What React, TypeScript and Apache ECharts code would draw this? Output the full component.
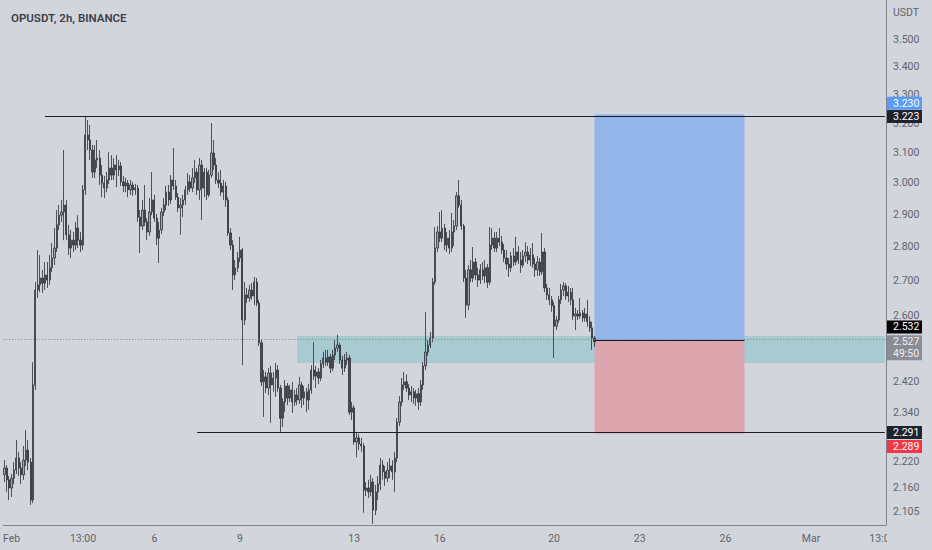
import React, { useEffect, useRef } from "react";
import * as echarts from "echarts";

// OHLC candles, 2h each: [open, close, low, high]
const candles: number[][] = [
  [2.189, 2.205, 2.172, 2.224], [2.205, 2.177, 2.149, 2.212], [2.177, 2.158, 2.130, 2.186], [2.158, 2.181, 2.137, 2.191],
  [2.181, 2.200, 2.167, 2.219], [2.200, 2.229, 2.191, 2.273], [2.229, 2.205, 2.186, 2.244], [2.205, 2.189, 2.167, 2.219],
  [2.189, 2.224, 2.177, 2.258], [2.224, 2.248, 2.210, 2.297], [2.248, 2.219, 2.200, 2.273], [2.219, 2.130, 2.119, 2.229],
  [2.130, 2.412, 2.123, 2.472], [2.412, 2.672, 2.399, 2.695], [2.672, 2.687, 2.649, 2.790], [2.687, 2.707, 2.666, 2.775],
  [2.707, 2.692, 2.664, 2.731], [2.692, 2.716, 2.672, 2.754], [2.716, 2.701, 2.678, 2.754], [2.701, 2.737, 2.687, 2.775],
  [2.737, 2.766, 2.725, 2.811], [2.766, 2.796, 2.745, 2.857], [2.796, 2.867, 2.784, 2.913], [2.867, 2.897, 2.851, 2.929],
  [2.897, 2.907, 2.876, 2.945], [2.907, 2.929, 2.820, 3.108], [2.929, 2.836, 2.820, 2.945], [2.836, 2.796, 2.775, 2.867],
  [2.796, 2.820, 2.766, 2.851], [2.820, 2.805, 2.784, 2.845], [2.805, 2.857, 2.790, 2.876], [2.857, 2.820, 2.796, 2.897],
  [2.820, 2.805, 2.784, 2.845], [2.805, 2.977, 2.790, 2.993], [2.977, 3.159, 2.961, 3.221], [3.159, 3.142, 3.108, 3.210],
  [3.142, 3.108, 3.075, 3.193], [3.108, 3.035, 3.016, 3.125], [3.035, 3.075, 3.016, 3.125], [3.075, 3.081, 3.048, 3.142],
  [3.081, 3.025, 2.993, 3.108], [3.025, 2.999, 2.954, 3.058], [2.999, 2.983, 2.951, 3.022], [2.983, 3.009, 2.970, 3.035],
  [3.009, 3.048, 2.996, 3.101], [3.048, 3.025, 3.009, 3.091], [3.025, 3.058, 3.009, 3.081], [3.058, 3.042, 2.986, 3.091],
  [3.042, 3.055, 3.022, 3.075], [3.055, 3.003, 2.990, 3.068], [3.003, 2.990, 2.970, 3.022], [2.990, 2.999, 2.970, 3.016],
  [2.999, 2.977, 2.954, 3.009], [2.977, 2.993, 2.961, 3.009], [2.993, 2.977, 2.958, 3.003], [2.977, 2.983, 2.961, 2.996],
  [2.983, 2.891, 2.876, 2.993], [2.891, 2.863, 2.781, 2.913], [2.863, 2.913, 2.851, 2.945], [2.913, 2.876, 2.863, 2.993],
  [2.876, 2.845, 2.820, 2.888], [2.845, 2.907, 2.833, 2.951], [2.907, 2.945, 2.897, 3.035], [2.945, 2.888, 2.876, 2.961],
  [2.888, 2.826, 2.805, 2.901], [2.826, 2.851, 2.751, 2.876], [2.851, 2.907, 2.839, 2.920], [2.907, 2.929, 2.894, 2.951],
  [2.929, 2.970, 2.913, 2.990], [2.970, 2.945, 2.926, 2.993], [2.945, 3.009, 2.932, 3.025], [3.009, 2.990, 2.977, 3.115],
  [2.990, 2.954, 2.945, 3.009], [2.954, 2.920, 2.907, 2.967], [2.920, 2.929, 2.836, 2.951], [2.929, 2.945, 2.891, 2.961],
  [2.945, 2.977, 2.929, 2.990], [2.977, 3.003, 2.961, 3.032], [3.003, 2.983, 2.970, 3.025], [2.983, 3.016, 2.970, 3.048],
  [3.016, 3.035, 2.999, 3.075], [3.035, 2.977, 2.961, 3.048], [2.977, 3.058, 2.945, 3.081], [3.058, 2.983, 2.882, 3.075],
  [2.983, 3.035, 2.954, 3.048], [3.035, 2.961, 2.945, 3.048], [2.961, 3.025, 2.954, 3.042], [3.025, 3.098, 3.016, 3.200],
  [3.098, 3.058, 3.042, 3.142], [3.058, 3.009, 2.996, 3.081], [3.009, 2.999, 2.983, 3.035], [2.999, 2.970, 2.958, 3.042],
  [2.970, 2.990, 2.945, 3.009], [2.990, 2.945, 2.923, 3.003], [2.945, 2.842, 2.833, 2.954], [2.842, 2.805, 2.790, 2.857],
  [2.805, 2.716, 2.672, 2.820], [2.716, 2.737, 2.701, 2.760], [2.737, 2.766, 2.725, 2.784], [2.766, 2.790, 2.754, 2.830],
  [2.790, 2.587, 2.464, 2.796], [2.587, 2.658, 2.573, 2.695], [2.658, 2.649, 2.635, 2.678], [2.649, 2.672, 2.638, 2.687],
  [2.672, 2.655, 2.644, 2.692], [2.655, 2.695, 2.629, 2.710], [2.695, 2.635, 2.626, 2.707], [2.635, 2.524, 2.515, 2.644],
  [2.524, 2.420, 2.409, 2.532], [2.420, 2.433, 2.330, 2.451], [2.433, 2.404, 2.391, 2.446], [2.404, 2.443, 2.386, 2.456],
  [2.443, 2.412, 2.315, 2.462], [2.412, 2.430, 2.394, 2.446], [2.430, 2.451, 2.381, 2.470], [2.451, 2.404, 2.394, 2.464],
  [2.404, 2.327, 2.292, 2.412], [2.327, 2.368, 2.305, 2.378], [2.368, 2.409, 2.342, 2.425], [2.409, 2.378, 2.360, 2.417],
  [2.378, 2.399, 2.368, 2.412], [2.399, 2.368, 2.340, 2.420], [2.368, 2.386, 2.358, 2.399], [2.386, 2.373, 2.360, 2.404],
  [2.373, 2.412, 2.363, 2.433], [2.412, 2.378, 2.353, 2.420], [2.378, 2.394, 2.360, 2.409], [2.394, 2.373, 2.342, 2.404],
  [2.373, 2.399, 2.348, 2.415], [2.399, 2.451, 2.389, 2.464], [2.451, 2.435, 2.425, 2.526], [2.435, 2.446, 2.404, 2.462],
  [2.446, 2.430, 2.414, 2.456], [2.430, 2.467, 2.422, 2.478], [2.467, 2.483, 2.456, 2.499], [2.483, 2.472, 2.462, 2.505],
  [2.472, 2.486, 2.462, 2.505], [2.486, 2.456, 2.443, 2.494], [2.456, 2.491, 2.448, 2.505], [2.491, 2.510, 2.478, 2.532],
  [2.510, 2.518, 2.499, 2.546], [2.518, 2.478, 2.467, 2.524], [2.478, 2.456, 2.438, 2.489], [2.456, 2.478, 2.446, 2.494],
  [2.478, 2.483, 2.464, 2.499], [2.483, 2.342, 2.335, 2.491], [2.342, 2.353, 2.322, 2.368], [2.353, 2.268, 2.261, 2.360],
  [2.268, 2.278, 2.231, 2.293], [2.278, 2.263, 2.248, 2.288], [2.263, 2.258, 2.244, 2.278], [2.258, 2.153, 2.101, 2.265],
  [2.153, 2.158, 2.139, 2.172], [2.158, 2.149, 2.135, 2.177], [2.149, 2.172, 2.139, 2.189], [2.172, 2.107, 2.076, 2.181],
  [2.107, 2.149, 2.096, 2.165], [2.149, 2.167, 2.130, 2.186], [2.167, 2.212, 2.153, 2.229], [2.212, 2.196, 2.177, 2.224],
  [2.196, 2.181, 2.163, 2.210], [2.181, 2.200, 2.172, 2.219], [2.200, 2.210, 2.181, 2.229], [2.210, 2.196, 2.177, 2.224],
  [2.196, 2.229, 2.149, 2.244], [2.229, 2.317, 2.219, 2.327], [2.317, 2.368, 2.307, 2.383], [2.368, 2.412, 2.358, 2.430],
  [2.412, 2.420, 2.399, 2.446], [2.420, 2.404, 2.394, 2.440], [2.404, 2.386, 2.373, 2.414], [2.386, 2.394, 2.368, 2.409],
  [2.394, 2.378, 2.363, 2.404], [2.378, 2.389, 2.358, 2.399], [2.389, 2.368, 2.348, 2.404], [2.368, 2.412, 2.358, 2.425],
  [2.412, 2.462, 2.399, 2.472], [2.462, 2.499, 2.451, 2.609], [2.499, 2.518, 2.489, 2.532], [2.518, 2.537, 2.510, 2.554],
  [2.537, 2.695, 2.526, 2.707], [2.695, 2.796, 2.687, 2.860], [2.796, 2.845, 2.784, 2.863], [2.845, 2.826, 2.814, 2.907],
  [2.826, 2.857, 2.814, 2.913], [2.857, 2.805, 2.790, 2.870], [2.805, 2.826, 2.784, 2.845], [2.826, 2.796, 2.778, 2.851],
  [2.796, 2.845, 2.784, 2.904], [2.845, 2.863, 2.802, 2.882], [2.863, 2.958, 2.851, 2.970], [2.958, 2.929, 2.920, 3.009],
  [2.929, 2.863, 2.851, 2.945], [2.863, 2.707, 2.695, 2.870], [2.707, 2.629, 2.593, 2.731], [2.629, 2.731, 2.615, 2.745],
  [2.731, 2.707, 2.695, 2.760], [2.707, 2.754, 2.695, 2.799], [2.754, 2.716, 2.701, 2.766], [2.716, 2.701, 2.681, 2.737],
  [2.701, 2.731, 2.690, 2.748], [2.731, 2.713, 2.701, 2.754], [2.713, 2.737, 2.692, 2.760], [2.737, 2.695, 2.678, 2.748],
  [2.695, 2.805, 2.687, 2.860], [2.805, 2.826, 2.790, 2.857], [2.826, 2.796, 2.784, 2.845], [2.796, 2.826, 2.784, 2.845],
  [2.826, 2.814, 2.802, 2.857], [2.814, 2.790, 2.778, 2.833], [2.790, 2.766, 2.754, 2.808], [2.766, 2.748, 2.731, 2.790],
  [2.748, 2.737, 2.710, 2.766], [2.737, 2.772, 2.725, 2.784], [2.772, 2.754, 2.742, 2.796], [2.754, 2.784, 2.745, 2.830],
  [2.784, 2.760, 2.748, 2.802], [2.760, 2.745, 2.722, 2.784], [2.745, 2.772, 2.737, 2.790], [2.772, 2.784, 2.754, 2.814],
  [2.784, 2.760, 2.748, 2.802], [2.760, 2.775, 2.742, 2.796], [2.775, 2.748, 2.737, 2.811], [2.748, 2.731, 2.710, 2.766],
  [2.731, 2.754, 2.713, 2.772], [2.754, 2.725, 2.713, 2.766], [2.725, 2.784, 2.716, 2.842], [2.784, 2.678, 2.666, 2.796],
  [2.678, 2.658, 2.644, 2.690], [2.658, 2.644, 2.629, 2.678], [2.644, 2.627, 2.610, 2.655], [2.627, 2.570, 2.483, 2.638],
  [2.570, 2.587, 2.559, 2.598], [2.587, 2.644, 2.579, 2.655], [2.644, 2.672, 2.632, 2.690], [2.672, 2.684, 2.655, 2.695],
  [2.684, 2.655, 2.644, 2.692], [2.655, 2.666, 2.638, 2.684], [2.666, 2.644, 2.629, 2.678], [2.644, 2.598, 2.587, 2.678],
  [2.598, 2.604, 2.559, 2.621], [2.604, 2.598, 2.587, 2.615], [2.598, 2.607, 2.590, 2.649], [2.607, 2.593, 2.582, 2.615],
  [2.593, 2.604, 2.582, 2.621], [2.604, 2.582, 2.568, 2.644], [2.582, 2.565, 2.554, 2.598], [2.565, 2.537, 2.505, 2.582],
  [2.537, 2.527, 2.513, 2.543],
];

// time slots (2h) on the category axis, UTC+1 local clock
const slotStartUTC = Date.UTC(2023, 0, 31, 19);
const slotCount = 371;
const slotHours = 2;

// x tick labels: [slot, text]
const xTickLabels: [string, string][] = [
  ["02-01 01:00", "Feb"], ["02-03 13:00", "13:00"], ["02-06 01:00", "6"], ["02-09 01:00", "9"],
  ["02-13 01:00", "13"], ["02-16 01:00", "16"], ["02-20 01:00", "20"], ["02-23 01:00", "23"],
  ["02-26 01:00", "26"], ["03-01 01:00", "Mar"], ["03-03 13:00", "13:00"],
];

// price axis ticks (log scale); 2.500 and 2.280 sit under the price tags and are not shown
const yTicks = [3.5, 3.4, 3.3, 3.2, 3.1, 3.0, 2.9, 2.8, 2.7, 2.6, 2.42, 2.34, 2.22, 2.16, 2.105];
const yRange = [2.0735, 3.6544];

// drawings
const resistanceLine = { price: 3.223, from: "02-02 05:00", to: "03-03 15:00" };
const supportLine = { price: 2.291, from: "02-07 13:00", to: "03-03 15:00" };
const demandZone = { low: 2.4696, high: 2.5427, from: "02-11 01:00", to: "03-03 15:00" };
const longPosition = { entry: 2.532, target: 3.23, stop: 2.289, from: "02-21 11:00", to: "02-26 17:00" };
const lastPrice = 2.527;
const countdown = "49:50";

// right-axis price tags
const tagPrices = [3.23, 3.223, 2.532, 2.527, 2.291, 2.289];

const pad = (n: number) => (n < 10 ? "0" + n : "" + n);
const categories: string[] = [];
for (let i = 0; i < slotCount; i++) {
  const d = new Date(slotStartUTC + i * slotHours * 3600000);
  categories.push(`${pad(d.getUTCMonth() + 1)}-${pad(d.getUTCDate())} ${pad(d.getUTCHours())}:00`);
}
const tickMap: Record<string, string> = {};
xTickLabels.forEach(([k, v]) => (tickMap[k] = v));

const BG = "#d2d5dc";
const FONT = "Roboto";

export default function App() {
  const ref = useRef<HTMLDivElement>(null);
  useEffect(() => {
    const chart = echarts.init(ref.current!, null, { renderer: "svg" });
    const L = Math.log;
    const logCandles = candles.map((c) => c.map(L));
    const option: any = {
      animation: false,
      backgroundColor: BG,
      title: {
        text: "OPUSDT, 2h, BINANCE",
        left: 6,
        top: 7,
        textStyle: { fontSize: 11.5, fontWeight: 600, color: "#3d404a", fontFamily: FONT },
      },
      grid: { left: 0, right: 46, top: 0, bottom: 25, containLabel: false },
      xAxis: {
        type: "category",
        data: categories,
        boundaryGap: true,
        axisLine: { show: true, lineStyle: { color: "#80838c", width: 1 } },
        axisTick: { show: false },
        splitLine: { show: false },
        axisLabel: {
          interval: (_i: number, v: string) => v in tickMap,
          formatter: (v: string) => tickMap[v] || "",
          color: "#60636d",
          fontSize: 10.5,
          fontFamily: FONT,
          margin: 8,
        },
      },
      yAxis: {
        type: "value",
        position: "right",
        min: L(yRange[0]),
        max: L(yRange[1]),
        splitLine: { show: false },
        axisLine: { show: true, onZero: false, lineStyle: { color: "#80838c", width: 1 } },
        axisTick: { show: false },
        axisLabel: {
          customValues: yTicks.map(L),
          formatter: (v: number) => Math.exp(v).toFixed(3),
          color: "#60636d",
          fontSize: 10.5,
          fontFamily: FONT,
          margin: 7,
        },
      },
      series: [
        {
          name: "zones",
          type: "line",
          data: [],
          z: 1,
          silent: true,
          markArea: {
            silent: true,
            data: [
              [
                { coord: [demandZone.from, L(demandZone.high)], itemStyle: { color: "#a8cbd1" } },
                { coord: [demandZone.to, L(demandZone.low)] },
              ],
              [
                { coord: [longPosition.from, L(longPosition.target)], itemStyle: { color: "#93b5e9" } },
                { coord: [longPosition.to, L(longPosition.entry)] },
              ],
              [
                { coord: [longPosition.from, L(longPosition.entry)], itemStyle: { color: "#dca4ac" } },
                { coord: [longPosition.to, L(longPosition.stop)] },
              ],
            ],
          },
        },
        {
          name: "OPUSDT",
          type: "candlestick",
          data: logCandles,
          z: 3,
          barWidth: "72%",
          itemStyle: {
            color: "#a2a5ad",
            color0: "#4b4e56",
            borderColor: "#2c2f36",
            borderColor0: "#2c2f36",
            borderWidth: 0.8,
          },
        },
        {
          name: "lines",
          type: "line",
          data: [],
          z: 5,
          silent: true,
          markLine: {
            silent: true,
            symbol: ["none", "none"],
            label: { show: false },
            data: [
              [
                { coord: [resistanceLine.from, L(resistanceLine.price)], lineStyle: { color: "#1b1e26", width: 1, type: "solid" } },
                { coord: [resistanceLine.to, L(resistanceLine.price)] },
              ],
              [
                { coord: [supportLine.from, L(supportLine.price)], lineStyle: { color: "#1b1e26", width: 1, type: "solid" } },
                { coord: [supportLine.to, L(supportLine.price)] },
              ],
              [
                { coord: [longPosition.from, L(longPosition.entry)], lineStyle: { color: "#15171d", width: 1, type: "solid" } },
                { coord: [longPosition.to, L(longPosition.entry)] },
              ],
              {
                yAxis: L(lastPrice),
                lineStyle: { color: "#7f828c", width: 1, type: [1, 2] },
              },
            ],
          },
        },
      ],
    };
    chart.setOption(option);

    const tagStyles = [
      { bg: "#5a9bf5", fg: "#ffffff", shift: -11 },
      { bg: "#1f232e", fg: "#ffffff", shift: 0 },
      { bg: "#000000", fg: "#ffffff", shift: -13 },
      { bg: "#8a8d96", fg: "#eeeff2", shift: 0, sub: countdown },
      { bg: "#1f232e", fg: "#ffffff", shift: 0 },
      { bg: "#f23645", fg: "#ffffff", shift: 13 },
    ];
    const axisX = 887;
    const graphics: any[] = [
      {
        type: "rect",
        shape: { x: axisX, y: 527, width: 45, height: 23 },
        style: { fill: BG },
        z: 100,
      },
      {
        type: "text",
        x: 893,
        y: 12,
        style: { text: "USDT", fill: "#60636d", fontSize: 10.5, fontFamily: FONT, verticalAlign: "middle", align: "left" },
        z: 100,
      },
    ];
    tagPrices.forEach((p, i) => {
      const st = tagStyles[i];
      const yc = (chart.convertToPixel({ yAxisIndex: 0 }, L(p)) as number) + st.shift;
      const h = st.sub ? 25 : 13;
      graphics.push({
        type: "rect",
        shape: { x: axisX, y: yc - 6.5, width: 35, height: h },
        style: { fill: st.bg },
        z: 110,
      });
      graphics.push({
        type: "text",
        x: 893,
        y: yc,
        style: { text: p.toFixed(3), fill: st.fg, fontSize: 10.5, fontFamily: FONT, verticalAlign: "middle", align: "left" },
        z: 111,
      });
      if (st.sub) {
        graphics.push({
          type: "text",
          x: 893,
          y: yc + 12,
          style: { text: st.sub, fill: st.fg, fontSize: 10.5, fontFamily: FONT, verticalAlign: "middle", align: "left" },
          z: 111,
        });
      }
    });
    chart.setOption({ graphic: graphics });
    return () => chart.dispose();
  }, []);
  return <div ref={ref} style={{ position: "absolute", left: 0, top: 0, width: 932, height: 550 }} />;
}
